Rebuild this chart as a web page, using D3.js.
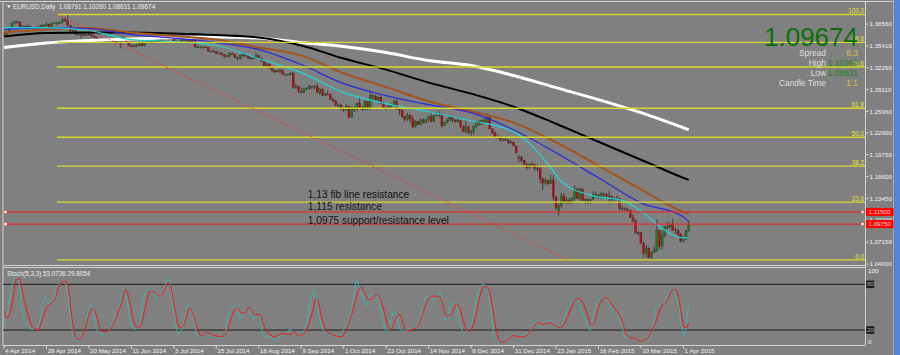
<!DOCTYPE html>
<html><head><meta charset="utf-8">
<script src="https://cdn.jsdelivr.net/npm/d3@7"></script>
<style>
html,body{margin:0;padding:0;background:#808080;overflow:hidden;}
svg{display:block;font-family:"Liberation Sans",Arial,sans-serif;}
</style></head><body>
<svg id="c" width="900" height="355"></svg>
<script>
// ---------- DATA (EURUSD Daily, 4 Apr 2014 .. 3 Apr 2015) ----------
const opens = [
1.3725,1.3700,1.3730,1.3795,1.3870,1.3890,1.3885,1.3815,1.3815,1.3820,
1.3815,1.3810,1.3795,1.3810,1.3815,1.3830,1.3830,1.3855,1.3810,1.3870,
1.3870,1.3870,1.3875,1.3925,1.3905,1.3835,1.3755,1.3760,1.3705,1.3710,
1.3710,1.3695,1.3710,1.3705,1.3685,1.3665,1.3630,1.3635,1.3630,1.3595,
1.3625,1.3635,1.3595,1.3630,1.3600,1.3660,1.3645,1.3590,1.3545,1.3530,
1.3545,1.3540,1.3570,1.3545,1.3595,1.3610,1.3605,1.3605,1.3610,1.3620,
1.3630,1.3645,1.3690,1.3680,1.3655,1.3610,1.3600,1.3605,1.3615,1.3640,
1.3610,1.3605,1.3615,1.3525,1.3525,1.3525,1.3525,1.3520,1.3465,1.3465,
1.3465,1.3430,1.3440,1.3415,1.3395,1.3390,1.3430,1.3415,1.3375,1.3360,
1.3400,1.3415,1.3395,1.3365,1.3360,1.3365,1.3400,1.3365,1.3320,1.3255,
1.3280,1.3240,1.3190,1.3165,1.3190,1.3180,1.3130,1.3130,1.3130,1.3150,
1.2945,1.2955,1.2890,1.2865,1.2920,1.2925,1.2960,1.2950,1.2960,1.2865,
1.2920,1.2830,1.2850,1.2845,1.2765,1.2750,1.2685,1.2685,1.2630,1.2620,
1.2670,1.2515,1.2650,1.2625,1.2710,1.2650,1.2625,1.2740,1.2650,1.2825,
1.2815,1.2760,1.2800,1.2715,1.2645,1.2650,1.2670,1.2700,1.2735,1.2630,
1.2615,1.2525,1.2485,1.2545,1.2490,1.2375,1.2455,1.2410,1.2475,1.2440,
1.2475,1.2525,1.2455,1.2535,1.2545,1.2545,1.2390,1.2440,1.2470,1.2505,
1.2470,1.2450,1.2470,1.2380,1.2310,1.2375,1.2290,1.2310,1.2380,1.2455,
1.2415,1.2465,1.2440,1.2505,1.2345,1.2290,1.2225,1.2225,1.2185,1.2195,
1.2180,1.2145,1.2155,1.2100,1.1935,1.1935,1.1890,1.1840,1.1790,1.1840,
1.1830,1.1775,1.1780,1.1630,1.1565,1.1600,1.1555,1.1610,1.1365,1.1140,
1.1240,1.1380,1.1290,1.1320,1.1290,1.1345,1.1480,1.1345,1.1480,1.1315,
1.1325,1.1310,1.1330,1.1400,1.1390,1.1360,1.1410,1.1405,1.1375,1.1380,
1.1330,1.1340,1.1345,1.1195,1.1195,1.1185,1.1175,1.1070,1.1025,1.0845,
1.0850,1.0700,1.0550,1.0630,1.0495,1.0565,1.0595,1.0880,1.0655,1.0810,
1.0940,1.0930,1.0965,1.0885,1.0890,1.0830,1.0730,1.0760,1.08791];
const highs = [
1.3755,1.3742,1.3810,1.3880,1.3906,1.3905,1.3890,1.3845,1.3830,1.3850,
1.3825,1.3815,1.3825,1.3830,1.3850,1.3850,1.3880,1.3860,1.3880,1.3890,
1.3890,1.3890,1.3950,1.3955,1.3993,1.3845,1.3780,1.3765,1.3730,1.3740,
1.3720,1.3725,1.3735,1.3710,1.3690,1.3670,1.3660,1.3655,1.3640,1.3630,
1.3650,1.3640,1.3645,1.3640,1.3670,1.3677,1.3650,1.3595,1.3560,1.3560,
1.3570,1.3585,1.3580,1.3600,1.3640,1.3615,1.3625,1.3625,1.3640,1.3650,
1.3660,1.3700,1.3700,1.3690,1.3665,1.3615,1.3620,1.3640,1.3655,1.3645,
1.3625,1.3630,1.3630,1.3545,1.3540,1.3535,1.3535,1.3525,1.3480,1.3490,
1.3470,1.3450,1.3445,1.3420,1.3415,1.3445,1.3440,1.3420,1.3390,1.3410,
1.3440,1.3425,1.3410,1.3385,1.3395,1.3445,1.3405,1.3375,1.3325,1.3300,
1.3290,1.3245,1.3200,1.3200,1.3215,1.3200,1.3145,1.3140,1.3160,1.3165,
1.2990,1.2965,1.2945,1.2930,1.2945,1.2985,1.2965,1.2980,1.2995,1.2935,
1.2925,1.2860,1.2900,1.2850,1.2790,1.2760,1.2715,1.2705,1.2650,1.2700,
1.2680,1.2665,1.2670,1.2730,1.2790,1.2680,1.2760,1.2745,1.2887,1.2845,
1.2835,1.2815,1.2835,1.2735,1.2680,1.2690,1.2715,1.2765,1.2770,1.2645,
1.2625,1.2535,1.2575,1.2555,1.2535,1.2475,1.2460,1.2490,1.2495,1.2490,
1.2535,1.2580,1.2545,1.2585,1.2600,1.2575,1.2450,1.2500,1.2530,1.2515,
1.2490,1.2500,1.2475,1.2395,1.2455,1.2380,1.2335,1.2405,1.2460,1.2470,
1.2480,1.2500,1.2570,1.2530,1.2355,1.2310,1.2265,1.2250,1.2210,1.2235,
1.2200,1.2180,1.2165,1.2105,1.1975,1.1960,1.1895,1.1850,1.1845,1.1870,
1.1845,1.1835,1.1795,1.1640,1.1640,1.1610,1.1680,1.1680,1.1375,1.1270,
1.1425,1.1420,1.1365,1.1355,1.1365,1.1535,1.1495,1.1500,1.1490,1.1350,
1.1345,1.1345,1.1445,1.1450,1.1410,1.1445,1.1430,1.1420,1.1450,1.1390,
1.1365,1.1390,1.1350,1.1240,1.1220,1.1200,1.1180,1.1115,1.1045,1.0875,
1.0865,1.0720,1.0670,1.0635,1.0590,1.0650,1.1043,1.0885,1.0890,1.0950,
1.1010,1.0995,1.1050,1.0925,1.0900,1.0840,1.0805,1.0890,1.10260];
const lows = [
1.3673,1.3690,1.3715,1.3785,1.3850,1.3860,1.3810,1.3790,1.3790,1.3805,
1.3805,1.3775,1.3785,1.3790,1.3800,1.3810,1.3815,1.3800,1.3800,1.3855,
1.3835,1.3855,1.3865,1.3885,1.3825,1.3750,1.3735,1.3695,1.3690,1.3647,
1.3675,1.3685,1.3685,1.3660,1.3645,1.3615,1.3620,1.3600,1.3585,1.3585,
1.3590,1.3585,1.3585,1.3590,1.3503,1.3620,1.3585,1.3535,1.3520,1.3515,
1.3530,1.3535,1.3535,1.3530,1.3580,1.3580,1.3575,1.3585,1.3590,1.3600,
1.3605,1.3640,1.3670,1.3650,1.3595,1.3590,1.3590,1.3585,1.3595,1.3590,
1.3590,1.3590,1.3520,1.3510,1.3505,1.3500,1.3510,1.3460,1.3445,1.3445,
1.3420,1.3420,1.3405,1.3366,1.3380,1.3375,1.3410,1.3365,1.3333,1.3345,
1.3380,1.3385,1.3355,1.3345,1.3355,1.3355,1.3360,1.3315,1.3250,1.3245,
1.3215,1.3170,1.3150,1.3160,1.3150,1.3130,1.3115,1.3110,1.3120,1.2920,
1.2920,1.2860,1.2860,1.2860,1.2905,1.2905,1.2910,1.2915,1.2860,1.2835,
1.2815,1.2815,1.2830,1.2760,1.2730,1.2680,1.2665,1.2625,1.2590,1.2605,
1.2500,1.2505,1.2590,1.2600,1.2645,1.2610,1.2620,1.2615,1.2615,1.2740,
1.2740,1.2745,1.2700,1.2635,1.2615,1.2640,1.2660,1.2690,1.2620,1.2545,
1.2505,1.2445,1.2460,1.2440,1.2355,1.2360,1.2395,1.2400,1.2420,1.2420,
1.2440,1.2440,1.2445,1.2525,1.2510,1.2360,1.2385,1.2420,1.2455,1.2440,
1.2435,1.2435,1.2355,1.2300,1.2280,1.2270,1.2245,1.2265,1.2360,1.2390,
1.2400,1.2410,1.2430,1.2345,1.2275,1.2220,1.2215,1.2165,1.2165,1.2180,
1.2130,1.2125,1.2095,1.2000,1.1860,1.1860,1.1810,1.1755,1.1765,1.1790,
1.1750,1.1730,1.1570,1.1460,1.1540,1.1525,1.1550,1.1315,1.1185,1.1098,
1.1200,1.1285,1.1260,1.1265,1.1270,1.1315,1.1335,1.1320,1.1305,1.1270,
1.1270,1.1270,1.1320,1.1375,1.1340,1.1335,1.1355,1.1345,1.1275,1.1300,
1.1290,1.1320,1.1175,1.1170,1.1160,1.1150,1.1060,1.1000,1.0840,1.0815,
1.0695,1.0495,1.0495,1.0480,1.0458,1.0565,1.0570,1.0615,1.0610,1.0780,
1.0900,1.0915,1.0880,1.0835,1.0800,1.0710,1.0710,1.0745,1.08631];
const closes = [
1.3705,1.3730,1.3795,1.3870,1.3890,1.3885,1.3815,1.3815,1.3820,1.3815,
1.3810,1.3795,1.3810,1.3815,1.3830,1.3830,1.3855,1.3810,1.3870,1.3870,
1.3870,1.3875,1.3925,1.3905,1.3835,1.3755,1.3760,1.3705,1.3710,1.3710,
1.3695,1.3710,1.3705,1.3685,1.3665,1.3630,1.3635,1.3630,1.3595,1.3625,
1.3635,1.3595,1.3630,1.3600,1.3660,1.3645,1.3590,1.3545,1.3530,1.3545,
1.3540,1.3570,1.3545,1.3595,1.3610,1.3605,1.3605,1.3610,1.3620,1.3630,
1.3645,1.3690,1.3680,1.3655,1.3610,1.3600,1.3605,1.3615,1.3640,1.3610,
1.3605,1.3615,1.3525,1.3525,1.3525,1.3525,1.3520,1.3465,1.3465,1.3465,
1.3430,1.3440,1.3415,1.3395,1.3390,1.3430,1.3415,1.3375,1.3360,1.3400,
1.3415,1.3395,1.3365,1.3360,1.3365,1.3400,1.3365,1.3320,1.3255,1.3280,
1.3240,1.3190,1.3165,1.3190,1.3180,1.3130,1.3130,1.3130,1.3150,1.2945,
1.2955,1.2890,1.2865,1.2920,1.2925,1.2960,1.2950,1.2960,1.2865,1.2920,
1.2830,1.2850,1.2845,1.2765,1.2750,1.2685,1.2685,1.2630,1.2620,1.2670,
1.2515,1.2650,1.2625,1.2710,1.2650,1.2625,1.2740,1.2650,1.2825,1.2815,
1.2760,1.2800,1.2715,1.2645,1.2650,1.2670,1.2700,1.2735,1.2630,1.2615,
1.2525,1.2485,1.2545,1.2490,1.2375,1.2455,1.2410,1.2475,1.2440,1.2475,
1.2525,1.2455,1.2535,1.2545,1.2545,1.2390,1.2440,1.2470,1.2505,1.2470,
1.2450,1.2470,1.2380,1.2310,1.2375,1.2290,1.2310,1.2380,1.2455,1.2415,
1.2465,1.2440,1.2505,1.2345,1.2290,1.2225,1.2225,1.2185,1.2195,1.2180,
1.2145,1.2155,1.2100,1.2000,1.1935,1.1890,1.1840,1.1790,1.1840,1.1830,
1.1775,1.1780,1.1630,1.1565,1.1600,1.1555,1.1610,1.1365,1.1205,1.1240,
1.1380,1.1290,1.1320,1.1290,1.1345,1.1480,1.1345,1.1480,1.1315,1.1325,
1.1310,1.1330,1.1400,1.1390,1.1360,1.1410,1.1405,1.1375,1.1380,1.1330,
1.1340,1.1345,1.1195,1.1195,1.1185,1.1175,1.1070,1.1025,1.0845,1.0850,
1.0700,1.0550,1.0630,1.0495,1.0565,1.0595,1.0880,1.0655,1.0810,1.0940,
1.0930,1.0965,1.0885,1.0890,1.0830,1.0730,1.0760,1.0880,1.09674];

// time axis ticks (bar index) and labels
const tickBars   = [0,16,32,48,64,80,96,112,128,144,160,176,192,208,224,240,256];
const tickLabels = ["4 Apr 2014","28 Apr 2014","20 May 2014","11 Jun 2014","3 Jul 2014","25 Jul 2014",
  "18 Aug 2014","9 Sep 2014","1 Oct 2014","23 Oct 2014","14 Nov 2014","8 Dec 2014","31 Dec 2014",
  "23 Jan 2015","16 Feb 2015","10 Mar 2015","1 Apr 2015"];
const priceTicks = [1.04000,1.07150,1.10300,1.13450,1.16600,1.19750,1.22900,1.25960,1.29110,1.32260,1.35410,1.38560];

// moving averages
const maBars   = [0,16,32,48,64,80,96,112,128,144,160,176,192,208,224,240,256,258];
const maWhite  = [1.3517,1.3582,1.3618,1.3640,1.3661,1.3668,1.3654,1.3589,1.3531,1.3445,1.3329,1.3257,1.3114,1.2940,1.2767,1.2579,1.2362,1.2334];
const maBlack  = [1.3676,1.3726,1.3733,1.3733,1.3719,1.3697,1.3661,1.3546,1.3358,1.3199,1.3012,1.2853,1.2665,1.2420,1.2160,1.1901,1.1641,1.1612];
const maBrown  = [1.3733,1.3777,1.3798,1.3733,1.3683,1.3632,1.3517,1.3401,1.3147,1.2947,1.2743,1.2599,1.2435,1.2153,1.1814,1.1476,1.1150,1.1122];
const maBlue   = [1.3777,1.3805,1.3791,1.3704,1.3654,1.3589,1.3488,1.3272,1.2997,1.2824,1.2694,1.2579,1.2334,1.2002,1.1641,1.1280,1.1078,1.1006];
const cyanBars = [0,16,32,48,64,80,96,112,128,144,160,176,192,204.6,208,210.6,220.8,224,232.1,240,247.2,256,258];
const maCyan   = [1.3805,1.3805,1.3762,1.3632,1.3603,1.3546,1.3358,1.3156,1.2868,1.2709,1.2593,1.2463,1.2305,1.1857,1.1684,1.1569,1.1396,1.1367,1.1323,1.1165,1.0934,1.0775,1.0775];

// stochastic (5,3,3)
const stochKBars = [0,1,2.9,4.1,5.4,6.7,7.9,9.2,10.4,12.3,14.2,15.4,16.7,18.6,19.8,21.1,22.3,23.6,24.9,26.1,27.4,29.3,30.5,31.8,33,34.3,35.5,37.4,39.3,40.6,41.8,43.1,44.3,45.6,46.8,48.1,49.3,51.2,52.5,54.4,56.3,57.5,59.4,60.7,61.9,63.2,64.4,65.7,66.9,68.2,69.4,70.7,72.6,73.8,75.7,77.6,79.4,81.3,83.2,84.5,85.8,87.6,88.9,90.2,91.4,92.7,93.9,95.2,96.5,97.7,99,100.9,102.1,104,105.9,107.8,109,110.3,112.1,114,115.9,117.2,118,119.7,120.9,122.8,125.3,127.2,128.5,129.7,131.6,132.9,134.1,135.4,136.6,137.9,139.1,140.4,142.3,144.2,145.4,146.7,147.9,149.2,150.4,152.3,154.2,156.1,157.4,159.3,161.2,163,164,165.5,166.8,168.7,169.9,171.8,173.1,174.3,175.6,176.8,178.1,179.4,180.6,181.9,183.1,184.4,185.6,186.9,188.8,190.7,192.5,194.4,196.3,198.2,200.1,202,203.8,205.7,207,208.2,210.1,212,213.9,215.1,216.4,217.6,219.5,220.8,222,223.3,225.2,227.1,229,230.8,232.7,234,235.2,237.1,239,240.9,242.1,244,245.9,247.2,248.4,250.3,251.6,252.8,254.1,255.4,256.3,257.3,258];
const stochK = [27.5,38.4,77.8,93.1,86.5,51.5,31.8,23,20.9,23,45,64.6,55.9,55.9,77.8,80,84.3,77.8,38.4,12.1,5.6,10,20.9,47.1,53.7,31.8,16.5,14.3,18.7,25.3,38.4,45,69,75.6,51.5,25.3,20.9,27.5,60.3,73.4,69,62.4,69,77.8,88.7,66.8,31.8,16.5,18.7,38.4,51.5,45,14.3,10,14.3,14.3,10,10,12.1,38.4,49.3,51.5,34,42.8,49.3,40.6,34,45,38.4,12.1,12.1,10,5.6,12.1,14.3,20.9,16.5,10,14.3,29.6,64.6,71.2,51.5,25.3,16.5,14.3,12.1,14.3,27.5,29.6,60.3,84.3,73.4,62.4,51.5,66.8,66.8,64.6,42.8,16.5,27.5,42.8,40.6,20.9,18.7,20.9,23,29.6,47.1,64.6,60.3,62.4,71.2,55.9,31.8,55.9,55.9,27.5,16.5,18.7,25.3,34,60.3,77.8,80,75.6,55.9,16.5,5.6,4.3,7.8,14.3,12.1,11.3,14.3,18.7,31.8,25.3,27.5,34,27.5,23,25.3,45,58.1,64.6,60.3,47.1,29.6,18.7,36.2,55.9,62.4,60.3,47.1,40.6,27.5,10,12.1,10,7.8,5.6,5.6,12.1,51.5,53.7,55.9,69,77.8,69,53.7,23,12.1,31.8,53.07];
const stochDBars = [0,1.2,2.9,4.8,5.8,7.3,9.2,11,12.9,14.2,16.1,17.3,19.2,20.8,22.6,24,25.1,26.1,27.4,28.6,29.9,31.7,33.4,34.9,36.1,38,39.3,41.2,43,44.3,45.9,47.4,48.7,50,51.2,53.1,55,56.9,58.7,60.2,61.9,63.1,64.4,66.3,67.5,68.8,70,71.3,73.2,74.4,76.3,78.2,80.1,82,83.8,85.1,86.3,87.6,89.5,90.7,92,93.3,94.5,96.4,97.6,98.9,100.2,102,103.9,105.8,107.7,109.6,110.8,112.7,114.6,116.5,117.5,118.3,119.6,121.5,123.4,125.3,127.1,129,130.5,132.2,133.4,134.7,135.9,137.2,138.4,140.3,141.6,143.1,144.1,146,147.2,149.1,150.3,152.2,154.1,156,157.9,159.8,161.6,163.5,164.8,166.7,168.6,170.4,171.7,172.9,174.2,175.5,176.7,178,179.2,180.5,181.7,183,184.2,185.5,186.7,188,189.9,191.8,193.6,195.5,197.4,199.3,201.2,203,204.9,206.2,207.5,209.3,210.6,212.5,214.3,215.6,216.9,218.1,220,221.3,222.5,223.8,225,226.3,227.5,229.4,231.3,233.2,234.4,236.3,238.2,240.1,242,243.9,245.7,247,248.2,250.1,251.4,252.6,253.9,255.2,256.4,257,258];
const stochD = [45,36,51.5,86.5,87.4,64.6,38.4,23,20.9,31.8,49.3,53.7,60.3,77.8,84.3,80,51.5,23,8.6,7.8,14.3,36.2,48,38.4,23,17.4,18.7,27.5,42.8,55.9,73.4,55.9,34,24,24,47.1,71.2,69,64.6,71.2,82.1,73.4,47.1,23,25.3,38.4,49.3,40.6,18.7,12.1,16.5,14.3,12.1,11.3,16.5,30,42.8,49.3,42.8,42.8,49.3,47.1,40.6,40.6,29.6,18.7,14.3,11.3,14.3,15.2,14.3,17.4,12.1,14.3,25.3,47.1,60.3,58.1,38.4,18.7,14.3,12.1,11.3,20.9,34,55.9,71.2,75.6,69,60.3,60.3,66.8,62.4,47.1,31.8,20.9,31.8,40.6,29.6,18.7,20.9,25.3,42.8,60.3,64.6,64.6,60.3,38.4,40.6,53.7,49.3,34,20.9,18.7,25.3,42.8,62.4,75.6,76.9,69,47.1,20.9,5.6,4.3,7.8,13,11.3,11.3,14.3,23,29.6,27.5,28.8,29.6,26.1,23,25.3,38.4,53.7,61.1,61.1,55.9,38.4,26.1,29.6,47.1,58.1,62.4,61.1,51.5,42.8,29.6,14.3,10,8.6,5.6,7.8,16.5,31.8,45,53.7,60.3,71.2,73.4,66.8,42.8,23,23,29.8];

// fibonacci retracement & objects
const fibLevels = [0,23.6,38.2,50,61.8,78.6,88.6,100];
const fibLabels = ["0.0","23.6","38.2","50.0","61.8","78.6","88.6","100.0"];
const fibLow = 1.0458, fibHigh = 1.3993, fibStartBar = 20, fibEndBar = 212.5;
const hLevels = [1.1150, 1.0975];
const hLabels = ["1.11500","1.09750"];
const notes = ["1,13 fib line resistance","1,115 resistance","1,0975  support/resistance level"];
const notePrices = [1.1408, 1.1225, 1.1024];
const noteBar = 114.5;
const infoSpread = "8.3", infoCandleTime = "1:1";

// ---------- CHART ----------
const svg = d3.select('#c');
const N = closes.length;
const x  = d3.scaleLinear().domain([0, 258]).range([4, 688.7]);
const y  = d3.scaleLinear().domain([1.04, 1.3856]).range([264, 24]);
const ys = d3.scaleLinear().domain([0, 100]).range([345.3, 269.1]);
const L = 3, R = 865, T = 2, MB = 265.5, ST = 268, SB = 345.5;

svg.append('rect').attr('width',900).attr('height',355).attr('fill','#808080');
svg.append('rect').attr('x',894).attr('y',0).attr('width',6).attr('height',355).attr('fill','#5783d6');

const defs = svg.append('defs');
defs.append('clipPath').attr('id','cm').append('rect').attr('x',L).attr('y',T).attr('width',R-L).attr('height',MB-T);
defs.append('clipPath').attr('id','cs').append('rect').attr('x',L).attr('y',ST).attr('width',R-L).attr('height',SB-ST);

const gm = svg.append('g').attr('clip-path','url(#cm)');

// candles
const idx = d3.range(N);
gm.append('g').selectAll('line').data(idx).join('line')
  .attr('x1',i=>x(i)).attr('x2',i=>x(i))
  .attr('y1',i=>y(highs[i])).attr('y2',i=>y(lows[i]))
  .attr('stroke','#383838').attr('stroke-width',0.9);
gm.append('g').selectAll('rect').data(idx).join('rect')
  .attr('x',i=>x(i)-1.05).attr('width',2.1)
  .attr('y',i=>y(Math.max(opens[i],closes[i])))
  .attr('height',i=>Math.max(0.8, Math.abs(y(opens[i])-y(closes[i]))))
  .attr('fill',i=>closes[i]>=opens[i] ? '#1d7d1d' : '#b81010')
  .attr('stroke','#303030').attr('stroke-width',0.3);

// moving averages
function maPath(bars, vals){
  return d3.line().x((d,i)=>x(bars[i])).y(d=>y(d)).curve(d3.curveMonotoneX)(vals);
}
const mas = [
  {b:maBars, v:maWhite, c:'#ffffff', w:3},
  {b:maBars, v:maBlack, c:'#000000', w:2},
  {b:maBars, v:maBrown, c:'#a3541f', w:2},
  {b:maBars, v:maBlue,  c:'#2a2ae0', w:1.2},
  {b:cyanBars, v:maCyan, c:'#1fd6d6', w:1.2}
];
mas.forEach(m=>{
  gm.append('path').attr('d',maPath(m.b,m.v)).attr('fill','none')
    .attr('stroke',m.c).attr('stroke-width',m.w);
});

// fibonacci
const fibPrice = l => fibLow + (fibHigh-fibLow)*l/100;
fibLevels.forEach((l,k)=>{
  const yy = y(fibPrice(l));
  svg.append('line').attr('x1',x(fibStartBar)).attr('x2',R).attr('y1',yy).attr('y2',yy)
    .attr('stroke','#d8d82c').attr('stroke-width',1.3);
  svg.append('text').attr('x',R-1).attr('y',yy-1.2).attr('text-anchor','end')
    .attr('font-size',6.3).attr('fill','#e4e43a').text(fibLabels[k]);
});
svg.append('line')
  .attr('x1',x(fibStartBar)).attr('y1',y(fibHigh)).attr('x2',x(fibEndBar)).attr('y2',y(fibLow))
  .attr('stroke','#ff2a2a').attr('stroke-width',1).attr('stroke-dasharray','1.6,2.2');

// horizontal support / resistance lines
hLevels.forEach((p,k)=>{
  const yy = y(p);
  svg.append('line').attr('x1',L).attr('x2',R).attr('y1',yy).attr('y2',yy)
    .attr('stroke','#dc3030').attr('stroke-width',1.2);
  [L+2.5, R-2.5].forEach(cx=>{
    svg.append('rect').attr('x',cx-1.5).attr('y',yy-1.5).attr('width',3).attr('height',3)
      .attr('fill','#ffffff').attr('stroke','#dc3030').attr('stroke-width',0.5);
  });
});

// annotations
notes.forEach((t,k)=>{
  svg.append('text').attr('x',x(noteBar)).attr('y',y(notePrices[k])).attr('dy','0.35em')
    .attr('font-size',10.2).attr('fill','#151515').text(t);
});

// frame
const fr = svg.append('g').attr('stroke','#d2d2d2').attr('stroke-width',1);
fr.append('line').attr('x1',0).attr('x2',894).attr('y1',1.5).attr('y2',1.5);
fr.append('line').attr('x1',L).attr('x2',L).attr('y1',1.5).attr('y2',SB);
fr.append('line').attr('x1',R+0.5).attr('x2',R+0.5).attr('y1',1.5).attr('y2',SB);
fr.append('line').attr('x1',L).attr('x2',R).attr('y1',MB).attr('y2',MB);
fr.append('line').attr('x1',L).attr('x2',R).attr('y1',ST-0.5).attr('y2',ST-0.5);
fr.append('line').attr('x1',L).attr('x2',R).attr('y1',SB).attr('y2',SB);
svg.append('line').attr('x1',893.5).attr('x2',893.5).attr('y1',0).attr('y2',355).attr('stroke','#a8a8a8');

// price axis
priceTicks.forEach(p=>{
  const yy = y(p);
  svg.append('line').attr('x1',R+1).attr('x2',R+3.5).attr('y1',yy).attr('y2',yy).attr('stroke','#e8e8e8').attr('stroke-width',0.8);
  svg.append('text').attr('x',R+4.5).attr('y',yy).attr('dy','0.35em').attr('font-size',6.2)
    .attr('fill','#f0f0f0').text(p.toFixed(5));
});
hLevels.forEach((p,k)=>{
  const yy = y(p);
  svg.append('rect').attr('x',R+1).attr('y',yy-4).attr('width',27.5).attr('height',8).attr('fill','#ff0000');
  svg.append('text').attr('x',R+3.5).attr('y',yy).attr('dy','0.35em').attr('font-size',6.2)
    .attr('fill','#ffd6d6').text(hLabels[k]);
});

// stochastic panel
const gs = svg.append('g').attr('clip-path','url(#cs)');
[80,20].forEach(v=>{
  gs.append('line').attr('x1',L).attr('x2',R).attr('y1',ys(v)).attr('y2',ys(v)).attr('stroke','#1c1c1c').attr('stroke-width',1);
});
const sl = (bars, vals) => d3.line().x((d,i)=>x(bars[i])).y(d=>ys(d)).curve(d3.curveMonotoneX)(vals);
gs.append('path').attr('d',sl(stochKBars,stochK)).attr('fill','none').attr('stroke','#3fb2aa').attr('stroke-width',1);
gs.append('path').attr('d',sl(stochDBars,stochD)).attr('fill','none').attr('stroke','#ff1414').attr('stroke-width',1);

svg.append('text').attr('x',R+3).attr('y',ys(100)+3.5).attr('font-size',6.2).attr('fill','#f0f0f0').text('100');
svg.append('text').attr('x',R+3).attr('y',ys(0)-1).attr('font-size',6.2).attr('fill','#f0f0f0').text('0');
[80,20].forEach(v=>{
  svg.append('rect').attr('x',R+1.2).attr('y',ys(v)-3.8).attr('width',8).attr('height',7.6).attr('fill','#1c1c1c');
  svg.append('text').attr('x',R+2.2).attr('y',ys(v)).attr('dy','0.35em').attr('font-size',6).attr('fill','#b0b0b0').text(String(v));
});
svg.append('text').attr('x',7).attr('y',276.3).attr('font-size',6.3).attr('fill','#ececec')
  .text('Stoch(5,3,3) 53.0736 29.8054');

// time axis
tickBars.forEach((b,k)=>{
  const xx = x(b);
  svg.append('line').attr('x1',xx).attr('x2',xx).attr('y1',SB).attr('y2',SB+3.2).attr('stroke','#e8e8e8').attr('stroke-width',0.8);
  svg.append('text').attr('x',xx+1.2).attr('y',353.4).attr('font-size',6.2).attr('fill','#f2f2f2').text(tickLabels[k]);
});

// title
const last = N-1;
svg.append('path').attr('d','M7,5.2 L10.6,5.2 L8.8,8.2 Z').attr('fill','#f0f0f0');
svg.append('text').attr('x',13).attr('y',9.3).attr('font-size',6.3).attr('fill','#ececec')
  .attr('xml:space','preserve')
  .text('EURUSD,Daily  ' + [opens[last],highs[last],lows[last],closes[last]].map(v=>v.toFixed(5)).join(' '));

// info panel
svg.append('text').attr('x',858).attr('y',46).attr('text-anchor','end').attr('font-size',26)
  .attr('fill','#0c710c').text(closes[last].toFixed(5));
const info = [["Spread",infoSpread,"#d4c63a"],["High",highs[last].toFixed(5),"#1f7f1f"],
              ["Low",lows[last].toFixed(5),"#1f7f1f"],["Candle Time",infoCandleTime,"#d4c63a"]];
info.forEach((r,k)=>{
  const yy = 56 + k*10;
  svg.append('text').attr('x',826).attr('y',yy).attr('text-anchor','end').attr('font-size',8.4).attr('fill','#dedede').text(r[0]);
  svg.append('text').attr('x',858).attr('y',yy).attr('text-anchor','end').attr('font-size',8.4).attr('fill',r[2]).text(r[1]);
});
</script>
</body></html>
